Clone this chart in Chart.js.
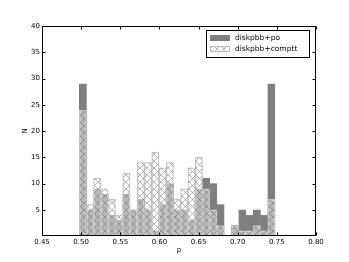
<!DOCTYPE html>
<html>
<head>
<meta charset="utf-8">
<script src="https://cdn.jsdelivr.net/npm/chart.js@4.4.0/dist/chart.umd.min.js"></script>
<style>
  html, body { margin: 0; padding: 0; background: #fff; }
  #wrap { width: 349px; height: 262px; }
</style>
</head>
<body>
<div id="wrap"><canvas id="chart" width="349" height="262"></canvas></div>
<script>
// Histogram bins (centres) and counts
const binCenters = [0.5022, 0.5115, 0.5207, 0.5300, 0.5392, 0.5485, 0.5578, 0.5670, 0.5763,
    0.5855, 0.5948, 0.6041, 0.6133, 0.6226, 0.6318, 0.6411, 0.6504, 0.6596, 0.6689,
    0.6781, 0.6874, 0.6967, 0.7059, 0.7152, 0.7244, 0.7337, 0.7430];
const poCounts     = [29, 5, 9, 8, 4, 3, 8, 5, 7, 5, 1, 6, 10, 5, 5, 3, 9, 11, 10, 6, 0, 2, 5, 4, 5, 4, 29];
const compttCounts = [24, 6, 11, 9, 7, 4, 12, 5, 14, 14, 16, 13, 14, 7, 9, 13, 15, 9, 5, 2, 0, 2, 1, 1, 2, 1, 7];
const seriesNames = ['diskpbb+po', 'diskpbb+comptt'];
const xTickValues = [0.45, 0.50, 0.55, 0.60, 0.65, 0.70, 0.75, 0.80];
const yTickValues = [5, 10, 15, 20, 25, 30, 35, 40];
const xTitle = 'p';
const yTitle = 'N';

const FONT = 'DejaVu Sans';
const poColor = '#7f7f7f';

// cross hatch fill for the comptt histogram
function makeHatch() {
    const s = 7;
    const c = document.createElement('canvas');
    c.width = s; c.height = s;
    const g = c.getContext('2d');
    g.fillStyle = 'rgba(255,255,255,0.45)';
    g.fillRect(0, 0, s, s);
    g.strokeStyle = 'rgba(105,105,105,0.6)';
    g.lineWidth = 0.8;
    g.beginPath();
    g.moveTo(-1, -1); g.lineTo(s + 1, s + 1);
    g.moveTo(-1, s + 1); g.lineTo(s + 1, -1);
    g.stroke();
    return g.createPattern(c, 'repeat');
}
const hatch = makeHatch();

const toPoints = arr => arr.map((v, i) => ({ x: binCenters[i], y: v }));

// frame, inward ticks, axis titles and legend, matplotlib style
const framePlugin = {
    id: 'frame',
    afterDraw(chart) {
        const { ctx, chartArea: a, scales } = chart;
        const L = Math.round(a.left) + 0.5, R = Math.round(a.right) - 0.5;
        const T = Math.round(a.top) + 0.5, B = Math.round(a.bottom) - 0.5;
        ctx.save();
        ctx.strokeStyle = '#000';
        ctx.lineWidth = 1;
        ctx.strokeRect(L, T, R - L, B - T);
        ctx.beginPath();
        xTickValues.forEach(v => {
            const px = Math.round(scales.x.getPixelForValue(v)) + 0.5;
            ctx.moveTo(px, B); ctx.lineTo(px, B - 3);
            ctx.moveTo(px, T); ctx.lineTo(px, T + 3);
        });
        yTickValues.forEach(v => {
            const py = Math.round(scales.y.getPixelForValue(v)) + 0.5;
            ctx.moveTo(L, py); ctx.lineTo(L + 3, py);
            ctx.moveTo(R, py); ctx.lineTo(R - 3, py);
        });
        ctx.stroke();

        // axis titles
        ctx.fillStyle = '#000';
        ctx.font = '7px "' + FONT + '"';
        ctx.textAlign = 'center';
        ctx.textBaseline = 'middle';
        ctx.fillText(xTitle, (a.left + a.right) / 2, 250);
        ctx.save();
        ctx.translate(25, (a.top + a.bottom) / 2);
        ctx.rotate(-Math.PI / 2);
        ctx.fillText(yTitle, 0, 0);
        ctx.restore();

        // legend
        const lx = 206.5, ly = 30.5, lw = 103, lh = 27;
        ctx.fillStyle = '#fff';
        ctx.fillRect(lx, ly, lw, lh);
        ctx.strokeStyle = '#000';
        ctx.strokeRect(lx, ly, lw, lh);
        ctx.fillStyle = poColor;
        ctx.fillRect(210, 35, 20, 6);
        ctx.fillStyle = hatch;
        ctx.fillRect(210, 46, 20, 6);
        ctx.strokeStyle = '#b8b8b8';
        ctx.strokeRect(210.5, 46.5, 19, 5);
        ctx.fillStyle = '#000';
        ctx.font = '7.5px "' + FONT + '"';
        ctx.textAlign = 'left';
        ctx.fillText(seriesNames[0], 235, 38.5);
        ctx.fillText(seriesNames[1], 235, 49.5);
        ctx.restore();
    }
};

new Chart(document.getElementById('chart'), {
    type: 'bar',
    data: {
        datasets: [
            {
                label: seriesNames[0],
                data: toPoints(poCounts),
                backgroundColor: poColor,
                borderColor: poColor,
                borderWidth: 0.5,
                order: 2
            },
            {
                label: seriesNames[1],
                data: toPoints(compttCounts),
                backgroundColor: hatch,
                borderColor: '#bdbdbd',
                borderWidth: 0.8,
                order: 1
            }
        ]
    },
    options: {
        responsive: false,
        animation: false,
        grouped: false,
        barPercentage: 1,
        categoryPercentage: 1,
        layout: { padding: { left: 0, top: 26, right: 33, bottom: 0 } },
        plugins: {
            legend: { display: false },
            tooltip: { enabled: false }
        },
        scales: {
            x: {
                type: 'linear',
                offset: false,
                min: 0.45,
                max: 0.80,
                afterFit: s => { s.height = 26; },
                afterBuildTicks: s => { s.ticks = xTickValues.map(v => ({ value: v })); },
                grid: { display: false, drawTicks: false, offset: false },
                border: { display: false },
                ticks: {
                    color: '#000',
                    font: { family: FONT, size: 7 },
                    padding: 2,
                    maxRotation: 0,
                    callback: v => v.toFixed(2)
                }
            },
            y: {
                min: 0,
                max: 40,
                afterFit: s => { s.width = 42; },
                afterBuildTicks: s => { s.ticks = yTickValues.map(v => ({ value: v })); },
                grid: { display: false, drawTicks: false },
                border: { display: false },
                ticks: {
                    color: '#000',
                    font: { family: FONT, size: 7 },
                    padding: 2
                }
            }
        }
    },
    plugins: [framePlugin]
});
</script>
</body>
</html>
